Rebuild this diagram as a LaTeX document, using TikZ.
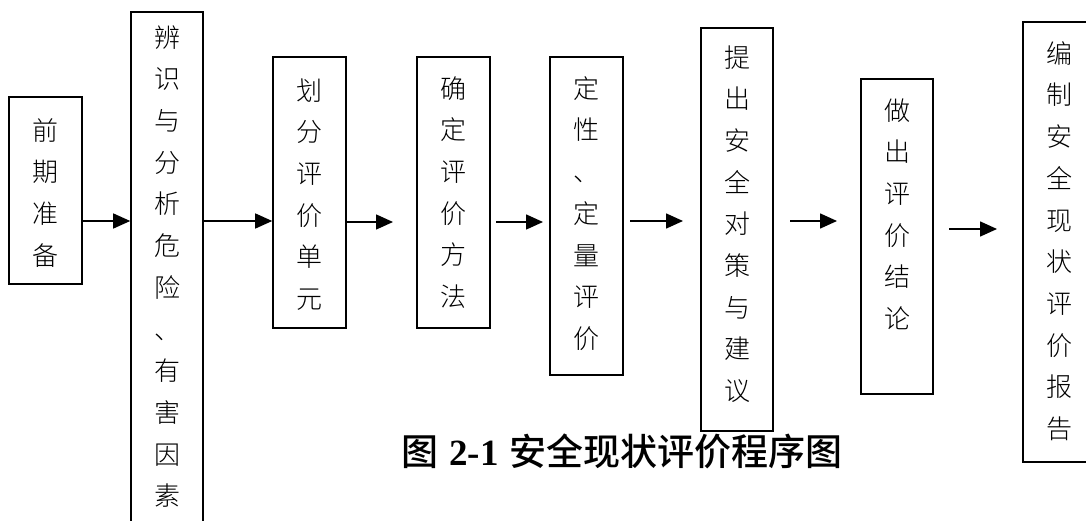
\documentclass[tikz,border=0pt]{standalone}
\usepackage{fontspec}
\usetikzlibrary{arrows.meta}
\newfontfamily\cjk{Noto Sans CJK SC Light}
\newfontfamily\cjkb{Noto Sans CJK SC Medium}
\newfontfamily\timesf{Liberation Serif}
\tikzset{
  box/.style={draw, line width=1.6pt, inner sep=0pt},
  vt/.style={font=\cjk\fontsize{26}{41.7}\selectfont, align=center, inner sep=0pt, anchor=north},
  arr/.style={line width=1.5pt, -{Triangle[length=17pt,width=15pt]}}
}
\begin{document}
\begin{tikzpicture}[x=1pt,y=-1pt]
\useasboundingbox (0,0) rectangle (1086,521);
% boxes
\node[box, minimum width=73pt, minimum height=187pt] (b1) at (45.5,190.5) {};
\node[box, minimum width=72pt, minimum height=528pt] (b2) at (167,276) {};
\node[box, minimum width=73pt, minimum height=271pt] (b3) at (309.5,192.5) {};
\node[box, minimum width=73pt, minimum height=271pt] (b4) at (453.5,192.5) {};
\node[box, minimum width=73pt, minimum height=318pt] (b5) at (586.5,216) {};
\node[box, minimum width=72pt, minimum height=403pt] (b6) at (737,229.5) {};
\node[box, minimum width=72pt, minimum height=315pt] (b7) at (897,236.5) {};
\node[box, minimum width=72pt, minimum height=440pt] (b8) at (1059,242) {};
% texts
\node[vt] (t1) at ([yshift=-22pt]b1.north) {前\\期\\准\\备};
\node[vt] (t2) at ([yshift=-14pt]b2.north) {辨\\识\\与\\分\\析\\危\\险\\、\\有\\害\\因\\素};
\node[vt] (t3) at ([yshift=-22pt]b3.north) {划\\分\\评\\价\\单\\元};
\node[vt] (t4) at ([yshift=-20pt]b4.north) {确\\定\\评\\价\\方\\法};
\node[vt] (t5) at ([yshift=-20pt]b5.north) {定\\性\\、\\定\\量\\评\\价};
\node[vt] (t6) at ([yshift=-18pt]b6.north) {提\\出\\安\\全\\对\\策\\与\\建\\议};
\node[vt] (t7) at ([yshift=-20pt]b7.north) {做\\出\\评\\价\\结\\论};
\node[vt] (t8) at ([yshift=-20pt]b8.north) {编\\制\\安\\全\\现\\状\\评\\价\\报\\告};
% free arrow ends
\coordinate (e34) at (393,222);
\coordinate (s45) at (496,222);
\coordinate (e45) at (543,222);
\coordinate (s56) at (630,221);
\coordinate (e56) at (683,221);
\coordinate (s67) at (790,221);
\coordinate (e67) at (837,221);
\coordinate (s78) at (949,229);
\coordinate (e78) at (997,229);
% arrows
\draw[arr] (b1.east |- 0,221) -- (b2.west |- 0,221);
\draw[arr] (b2.east |- 0,221) -- (b3.west |- 0,221);
\draw[arr] (b3.east |- e34) -- (e34);
\draw[arr] (s45) -- (e45);
\draw[arr] (s56) -- (e56);
\draw[arr] (s67) -- (e67);
\draw[arr] (s78) -- (e78);
% caption
\node[font=\fontsize{37}{40}\selectfont, inner sep=0pt] (cap) at (622,451) {{\cjkb 图} {\timesf\bfseries 2-1} {\cjkb 安全现状评价程序图}};
\end{tikzpicture}
\end{document}
